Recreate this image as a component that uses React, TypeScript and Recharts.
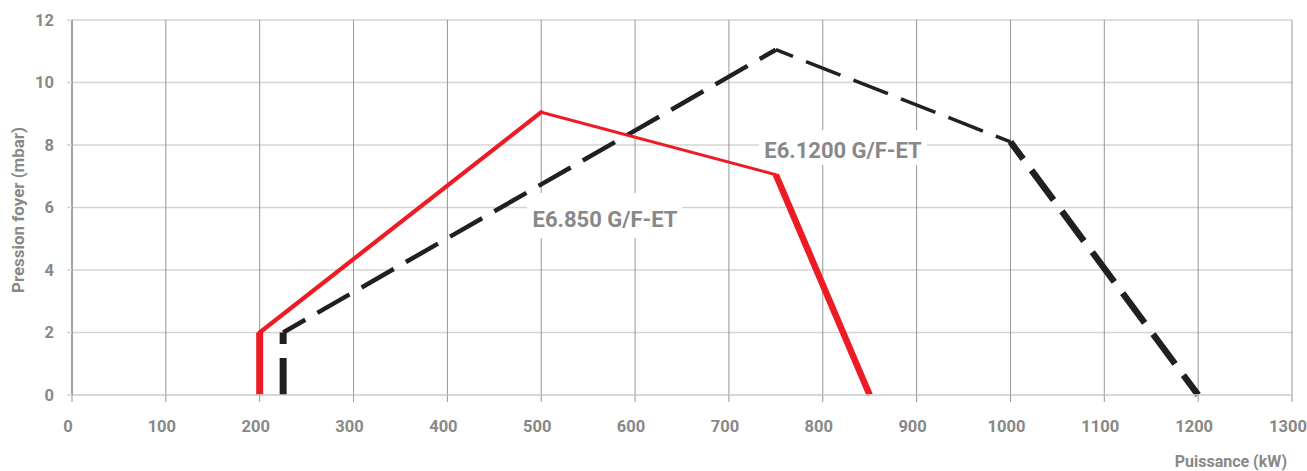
import { LineChart, Line, XAxis, YAxis, CartesianGrid } from "recharts";

// axis ticks
const powerTicks = [0, 100, 200, 300, 400, 500, 600, 700, 800, 900, 1000, 1100, 1200, 1300];
const pressureTicks = [0, 2, 4, 6, 8, 10, 12];

// E6.850 G/F-ET (red, solid)
const e850Power = [200, 200, 500, 750, 850];
const e850Pressure = [0, 2, 9.05, 7.05, 0];

// E6.1200 G/F-ET (black, dashed)
const e1200Power = [225, 225, 750, 1000, 1200];
const e1200Pressure = [0, 2, 11.05, 8.1, 0];

// styling
const RED = "#ed1c24";
const BLACK = "#231f20";
const GRID_DARK = "#959595";
const GRID_LIGHT = "#d4d4d4";
const TEXT = "#888888";
const FONT = "Roboto, 'Liberation Sans', sans-serif";
const redWidths = [7, 4.2, 3, 6.5];
const blackWidths = [7, 4.5, 3.5, 6.5];
const DASH = 37;
const GAP = 14;

const W = 1307;
const H = 471;
const MARGIN = { top: 20, right: 15, bottom: 0, left: 0 };
const Y_AXIS_W = 72;
const X_AXIS_H = 76;
const PLOT_W = W - MARGIN.left - MARGIN.right - Y_AXIS_W;
const PLOT_H = H - MARGIN.top - MARGIN.bottom - X_AXIS_H;

type Pt = { x: number; y: number };

function toSegments(xs: number[], ys: number[]): Pt[][] {
  return xs.slice(1).map((x, i) => [
    { x: xs[i], y: ys[i] },
    { x, y: ys[i + 1] },
  ]);
}

// keep the dash pattern running across the separate segments
function dashOffsets(segs: Pt[][]): number[] {
  let acc = 0;
  return segs.map((s) => {
    const off = acc;
    const dx = ((s[1].x - s[0].x) / 1300) * PLOT_W;
    const dy = ((s[1].y - s[0].y) / 12) * PLOT_H;
    acc += Math.sqrt(dx * dx + dy * dy);
    return off % (DASH + GAP);
  });
}

const redSegs = toSegments(e850Power, e850Pressure);
const blackSegs = toSegments(e1200Power, e1200Pressure);
const blackOffsets = dashOffsets(blackSegs);

const tickStyle = { fill: TEXT, fontSize: 16.5, fontWeight: 700, fontFamily: FONT };
const labelStyle = { fill: TEXT, fontWeight: 700, fontFamily: FONT };

export default function App() {
  return (
    <div style={{ width: W, height: H, background: "#fff" }}>
      <style>{`body{margin:0}`}</style>
      <LineChart width={W} height={H} margin={MARGIN}>
        <CartesianGrid vertical={false} stroke={GRID_LIGHT} strokeWidth={1.5} />
        <CartesianGrid horizontal={false} stroke={GRID_DARK} />
        <XAxis
          type="number"
          dataKey="x"
          domain={[0, 1300]}
          ticks={powerTicks}
          interval={0}
          height={X_AXIS_H}
          tick={{ ...tickStyle, dx: -4 }}
          tickSize={7}
          tickMargin={18}
          axisLine={{ stroke: GRID_LIGHT, strokeWidth: 1.5 }}
          tickLine={{ stroke: GRID_DARK }}
        />
        <YAxis
          type="number"
          domain={[0, 12]}
          ticks={pressureTicks}
          interval={0}
          width={Y_AXIS_W}
          tick={tickStyle}
          tickSize={5}
          tickMargin={13}
          axisLine={{ stroke: GRID_DARK, strokeWidth: 1.5 }}
          tickLine={{ stroke: GRID_LIGHT, strokeWidth: 1.5 }}
        />

        <g>
          <rect x={527} y={193} width={155} height={45} fill="#fff" />
          <text x={605} y={227} textAnchor="middle" fontSize={22} {...labelStyle}>
            E6.850 G/F-ET
          </text>
          <rect x={759} y={130} width={168} height={35} fill="#fff" />
          <text x={843} y={158} textAnchor="middle" fontSize={22} {...labelStyle}>
            E6.1200 G/F-ET
          </text>
          <text
            x={18}
            y={210}
            transform="rotate(-90 18 210)"
            textAnchor="middle"
            dominantBaseline="central"
            fontSize={16}
            textLength={166}
            lengthAdjust="spacingAndGlyphs"
            {...labelStyle}
          >
            Pression foyer (mbar)
          </text>
          <text x={1287} y={467} textAnchor="end" fontSize={16} {...labelStyle}>
            Puissance (kW)
          </text>
        </g>

        {blackSegs.map((seg, i) => (
          <Line
            key={`b${i}`}
            data={seg}
            dataKey="y"
            type="linear"
            stroke={BLACK}
            strokeWidth={blackWidths[i]}
            strokeDasharray={`${DASH} ${GAP}`}
            strokeDashoffset={blackOffsets[i]}
            dot={false}
            activeDot={false}
            legendType="none"
            isAnimationActive={false}
          />
        ))}
        {redSegs.map((seg, i) => (
          <Line
            key={`r${i}`}
            data={seg}
            dataKey="y"
            type="linear"
            stroke={RED}
            strokeWidth={redWidths[i]}
            strokeLinecap={i === 0 || i === redSegs.length - 1 ? "butt" : "round"}
            dot={false}
            activeDot={false}
            legendType="none"
            isAnimationActive={false}
          />
        ))}
      </LineChart>
    </div>
  );
}
